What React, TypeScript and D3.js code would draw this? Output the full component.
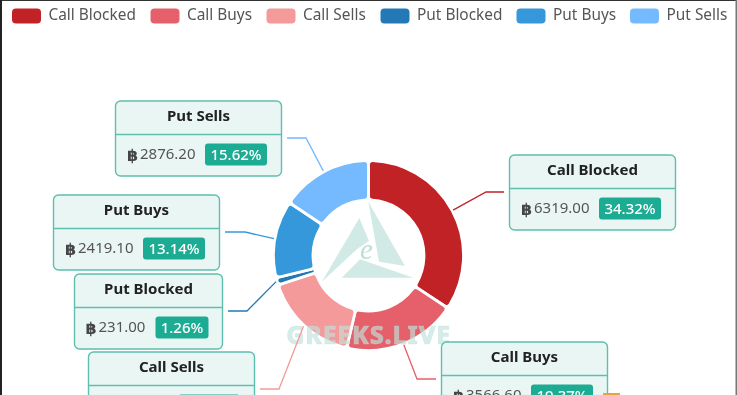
import React from "react";
import * as d3 from "d3";

const categories = ["Call Blocked", "Call Buys", "Call Sells", "Put Blocked", "Put Buys", "Put Sells"];
const amounts = [6319.0, 3566.6, 3000.0, 231.0, 2419.1, 2876.2];
const amountLabels = ["6319.00", "3566.60", "3000.00", "231.00", "2419.10", "2876.20"];
const percents = ["34.32%", "19.37%", "16.29%", "1.26%", "13.14%", "15.62%"];
const colors = ["#c12226", "#e5616a", "#f49a9a", "#2479b5", "#3498db", "#74b9ff"];

// label-box layout (left, top, width) and connector elbow, per category
const boxX = [509.5, 441.5, 88.5, 74.5, 53.5, 115.5];
const boxY = [155, 342, 352, 274, 195, 101];
const boxW = [166, 166, 166, 148, 166, 166];
const lineEndX = [504, 436, 260, 228, 225, 287];
const elbowX = [486, 417, 279, 247, 245, 306];
const legendX = [12, 150.5, 266.5, 380.5, 516.5, 630];

const W = 737, H = 395, cx = 368.5, cy = 255.5, rOuter = 95, rInner = 55.5;
const TEAL = "#5fbfae", FILL = "#eaf6f4", BADGE = "#1fab93";
const FONT = "'Noto Sans', 'Open Sans', sans-serif";

export default function App() {
  const pie = d3.pie<number>().sort(null).value((d) => d);
  const arcs = pie(amounts);
  const arc = d3.arc<d3.PieArcDatum<number>>().innerRadius(rInner).outerRadius(rOuter).cornerRadius(4);
  return (
    <svg width={W} height={H} viewBox={`0 0 ${W} ${H}`}
      style={{ position: "absolute", left: 0, top: 0, background: "#fff", fontFamily: FONT }}>
      <defs>
        <filter id="soft" x="-5%" y="-5%" width="110%" height="110%"><feGaussianBlur stdDeviation="0.4" /></filter>
      </defs>
      <g filter="url(#soft)">
        <rect x={-2} y={-2} width={W + 4} height={3} fill="#333" />
        <rect x={-2} y={-2} width={4} height={H + 4} fill="#222" />
        <rect x={735.5} y={-2} width={4} height={H + 4} fill="#777" />
        {categories.map((c, i) => (
          <g key={c}>
            <rect x={legendX[i]} y={8.5} width={29} height={15} rx={4} fill={colors[i]} />
            <text x={legendX[i] + 36.5} y={19.5} fontSize={15.4} fill="#555">{c}</text>
          </g>
        ))}
        {arcs.map((a, i) => (
          <path key={i} transform={`translate(${cx},${cy})`} d={arc(a) ?? ""} fill={colors[i]} stroke="#fff" strokeWidth={2.8} />
        ))}
        {/* watermark */}
        <g fill="#d2eae6">
          <polygon points="359.3,218 369,241 357.7,248.5 321.7,282" />
          <polygon points="368.3,201.7 405,266 379,261.7" />
          <polygon points="341.7,277.7 360,259.3 413.3,277.7" />
          <text x={366.5} y={259} fontSize={29} fontStyle="italic" fontFamily="'Liberation Serif', serif" textAnchor="middle" fill="#bcdfd8">e</text>
        </g>
        <text x={368.5} y={344} fontSize={25} fontWeight={800} textAnchor="middle" letterSpacing={0.8}
          fill="#c0e2dc" fillOpacity={0.65} stroke="#c0e2dc" strokeOpacity={0.5} strokeWidth={0.6}>GREEKS.LIVE</text>
        {arcs.map((a, i) => {
          const mid = (a.startAngle + a.endAngle) / 2;
          const px = cx + Math.sin(mid) * (rOuter + 1);
          const py = cy - Math.cos(mid) * (rOuter + 1);
          const ly = boxY[i] + 37;
          return (
            <polyline key={i} points={`${px},${py} ${elbowX[i]},${ly} ${lineEndX[i]},${ly}`}
              fill="none" stroke={colors[i]} strokeWidth={1.3} />
          );
        })}
        {categories.map((c, i) => {
          const x = boxX[i], y = boxY[i], w = boxW[i], mid = x + w / 2;
          const badgeW = percents[i].length > 5 ? 62 : 53;
          const numW = amountLabels[i].length * 8;
          const total = 13 + numW + 9 + badgeW;
          const startX = mid - total / 2 - 0.5;
          return (
            <g key={c}>
              <rect x={x} y={y} width={w} height={75} rx={5} fill={FILL} stroke={TEAL} strokeWidth={1.4} />
              <line x1={x} x2={x + w} y1={y + 33.5} y2={y + 33.5} stroke={TEAL} strokeWidth={1.4} />
              <text x={mid} y={y + 20} fontSize={15} fontWeight={700} fill="#222" textAnchor="middle">{c}</text>
              <text x={startX - 1} y={y + 60} fontSize={16} fontWeight={700} fontFamily="'DejaVu Sans', sans-serif" fill="#444">฿</text>
              <text x={startX + 12} y={y + 58} fontSize={15} fill="#555">{amountLabels[i]}</text>
              <rect x={startX + total - badgeW - 1} y={y + 42.5} width={badgeW} height={22} rx={3} fill={BADGE} />
              <text x={startX + total - badgeW / 2 - 1} y={y + 58.5} fontSize={15} fontWeight={500} fill="#fff" textAnchor="middle">{percents[i]}</text>
            </g>
          );
        })}
        <rect x={603} y={393} width={17} height={3} fill="#e8a33a" />
      </g>
    </svg>
  );
}
